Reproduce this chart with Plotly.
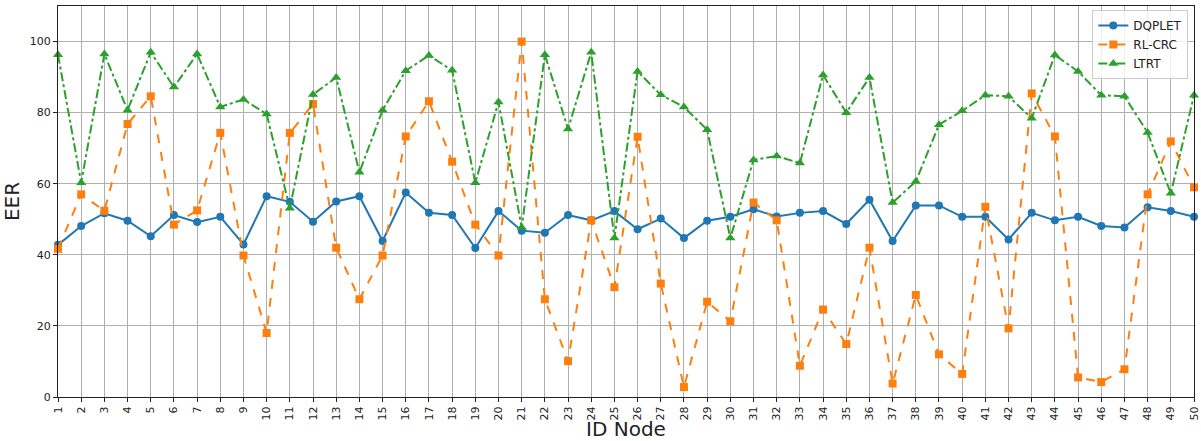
import plotly.graph_objects as go

nodes = list(range(1, 51))
tick_labels = [str(n) for n in nodes]

dqplet = [42.8, 48.1, 51.7, 49.6, 45.2, 51.2, 49.2, 50.7, 42.9, 56.5,
          54.9, 49.3, 55.0, 56.5, 43.9, 57.5, 51.8, 51.2, 41.9, 52.3,
          46.8, 46.2, 51.2, 49.7, 52.3, 47.2, 50.2, 44.7, 49.6, 50.7,
          52.8, 50.8, 51.8, 52.3, 48.7, 55.5, 43.9, 53.9, 53.9, 50.7,
          50.7, 44.3, 51.8, 49.7, 50.7, 48.1, 47.7, 53.4, 52.3, 50.7]

rl_crc = [41.7, 57.0, 52.4, 76.8, 84.6, 48.5, 52.5, 74.3, 39.8, 18.0,
          74.3, 82.4, 42.0, 27.5, 39.8, 73.3, 83.2, 66.2, 48.5, 39.8,
          100.0, 27.5, 10.1, 49.7, 30.9, 73.2, 31.9, 2.8, 26.8, 21.3,
          54.7, 49.7, 8.8, 24.6, 14.9, 42.0, 3.8, 28.7, 12.0, 6.5,
          53.5, 19.3, 85.4, 73.3, 5.5, 4.2, 7.8, 57.0, 71.9, 59.0]

ltrt = [96.3, 60.3, 96.5, 80.7, 97.0, 87.2, 96.5, 81.6, 83.7, 79.6,
        53.1, 85.1, 89.9, 63.2, 80.7, 91.8, 96.1, 91.9, 60.3, 83.0,
        47.7, 96.3, 75.4, 97.0, 44.7, 91.6, 85.0, 81.6, 75.2, 44.7,
        66.7, 67.8, 65.8, 90.6, 80.0, 89.9, 54.7, 60.6, 76.6, 80.5,
        84.9, 84.6, 78.4, 96.2, 91.6, 84.9, 84.6, 74.4, 57.3, 84.9]

fig = go.Figure()
fig.add_trace(go.Scatter(x=nodes, y=dqplet, name="DQPLET", mode="lines+markers",
                         line=dict(color="#1f77b4", width=2),
                         marker=dict(symbol="circle", size=8, color="#1f77b4"),
                         cliponaxis=False))
fig.add_trace(go.Scatter(x=nodes, y=rl_crc, name="RL-CRC", mode="lines+markers",
                         line=dict(color="#ff7f0e", width=2, dash="dash"),
                         marker=dict(symbol="square", size=8, color="#ff7f0e"),
                         cliponaxis=False))
fig.add_trace(go.Scatter(x=nodes, y=ltrt, name="LTRT", mode="lines+markers",
                         line=dict(color="#2ca02c", width=2, dash="dashdot"),
                         marker=dict(symbol="triangle-up", size=9, color="#2ca02c"),
                         cliponaxis=False))

font_family = "DejaVu Sans"
fig.update_layout(
    width=1201, height=441,
    margin=dict(l=58, r=7, t=6, b=44),
    paper_bgcolor="white", plot_bgcolor="white",
    font=dict(family=font_family, size=11, color="#222"),
    showlegend=True,
    legend=dict(x=0.995, y=0.99, xanchor="right", yanchor="top",
                bgcolor="rgba(255,255,255,0.8)", bordercolor="#cccccc", borderwidth=1,
                font=dict(size=12, color="#222"), tracegroupgap=0,
                itemwidth=30),
    xaxis=dict(
        range=[1, 50], tickmode="array", tickvals=nodes, ticktext=tick_labels,
        tickangle=-90, showgrid=True, gridcolor="#b0b0b0", gridwidth=1,
        showline=True, linecolor="#222", linewidth=1, mirror=True,
        ticks="outside", ticklen=4, tickcolor="#222", zeroline=False,
        automargin=False, ticklabeloverflow="allow",
        title=dict(text="ID Node", font=dict(size=20, color="#222"), standoff=6),
    ),
    yaxis=dict(
        range=[0, 110], tickmode="array", tickvals=[0, 20, 40, 60, 80, 100],
        showgrid=True, gridcolor="#b0b0b0", gridwidth=1,
        showline=True, linecolor="#222", linewidth=1, mirror=True,
        ticks="outside", ticklen=4, tickcolor="#222", zeroline=False,
        automargin=False,
        title=dict(text="EER", font=dict(size=20, color="#222"), standoff=8),
    ),
)

fig.write_html("out.html")
